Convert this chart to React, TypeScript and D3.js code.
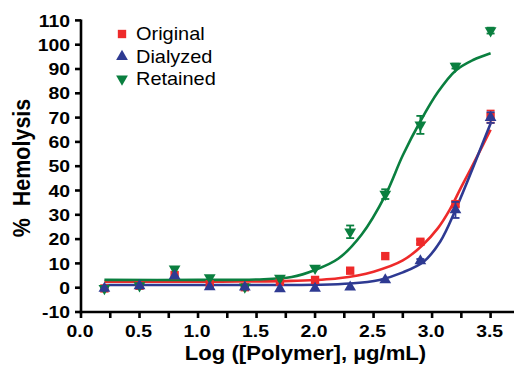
import * as d3 from 'd3';
import React from 'react';

// log concentration of each sample
const logConc = [0.2, 0.5, 0.8, 1.1, 1.4, 1.7, 2.0, 2.3, 2.6, 2.9, 3.2, 3.5];

// % hemolysis, mean values
const original = [-0.3, 0.8, 5.2, 1.4, 0.2, 2.5, 3.2, 7, 13, 18.9, 34.4, 70.4];
const dialyzed = [-0.3, 0.8, 4.9, 0.3, 0.2, -0.5, -0.3, 0.2, 3.2, 11, 32, 70];
const retained = [-0.3, 0.8, 7.7, 4.1, 0.3, 3.9, 8, 23, 38.5, 67, 91.2, 105.8];

// error bars (+/-)
const originalErr = [0, 0, 0, 0, 0, 0, 0, 0, 0, 0.8, 1, 2.5];
const dialyzedErr = [0, 0, 0, 0, 0, 0, 0, 0, 0, 0.8, 3.3, 2.2];
const retainedErr = [0, 0, 0, 0, 0, 0, 0, 2.6, 2, 3.7, 1, 1.2];

// fitted curves as [log conc, % hemolysis]
const originalFit = [[0.2, 2.5], [1.2, 2.5], [1.8, 2.8], [2.2, 3.9], [2.5, 6.6], [2.75, 11.2], [2.92, 17.6], [3.05, 24.5], [3.15, 32], [3.25, 41.5], [3.38, 53.5], [3.5, 65]];
const dialyzedFit = [[0.2, 1.1], [1.2, 1.1], [2.0, 1.2], [2.3, 1.7], [2.55, 3.2], [2.75, 6.3], [2.93, 10.8], [3.07, 19], [3.2, 32], [3.3, 43.5], [3.4, 55.5], [3.5, 67.6]];
const retainedFit = [[0.2, 3.2], [1.0, 3.2], [1.5, 3.4], [1.8, 4.4], [2.0, 7.3], [2.2, 12], [2.4, 22], [2.6, 38], [2.75, 54.5], [2.9, 68.5], [3.05, 80.5], [3.2, 89.3], [3.35, 93.7], [3.5, 96.5]];

const xTicks = d3.range(0, 3.51, 0.25);
const xLabels = [0, 0.5, 1, 1.5, 2, 2.5, 3, 3.5];
const yTicks = d3.range(-10, 111, 10);

const series = [
  { name: 'Original', color: '#ee2a2a', values: original, err: originalErr, fit: originalFit, shape: 'square' },
  { name: 'Retained', color: '#0a7f3f', values: retained, err: retainedErr, fit: retainedFit, shape: 'down' },
  { name: 'Dialyzed', color: '#2e3a92', values: dialyzed, err: dialyzedErr, fit: dialyzedFit, shape: 'up' },
];
const legendOrder = ['Original', 'Dialyzed', 'Retained'];

const W = 516;
const H = 370;
const font = '"Liberation Sans", Arial, sans-serif';
const SX = 1.14; // text in the figure is a bit wide

const x = d3.scaleLinear().domain([0, 3.7]).range([81, 514]);
const y = d3.scaleLinear().domain([-10, 110]).range([312, 20.4]);

const line = d3.line<number[]>()
  .x((d) => x(d[0]))
  .y((d) => y(d[1]))
  .curve(d3.curveCatmullRom.alpha(0.5));

const symbolPath = (shape: string) => {
  if (shape === 'square') return d3.symbol().type(d3.symbolSquare).size(70)();
  return d3.symbol().type(d3.symbolTriangle).size(60)();
};

const Marker = ({ shape, color, cx, cy }) => (
  <path
    d={symbolPath(shape) || ''}
    fill={color}
    transform={`translate(${cx},${cy})${shape === 'down' ? ' rotate(180)' : ''}`}
  />
);

const at = (px: number, py: number, sx = SX) => `translate(${px},${py}) scale(${sx},1)`;

const App = () => {
  return (
    <svg width={W} height={H} style={{ position: 'absolute', left: 0, top: 0, background: '#fff' }}>
      {/* fitted curves */}
      {series.map((s) => (
        <path key={s.name + '-fit'} d={line(s.fit as number[][]) || ''} fill="none" stroke={s.color} strokeWidth={2.6} />
      ))}

      {/* error bars + markers */}
      {series.map((s) => (
        <g key={s.name}>
          {s.values.map((v, i) => {
            const e = s.err[i];
            const cx = x(logConc[i]);
            if (!e) return null;
            return (
              <g key={i} stroke={s.color} strokeWidth={1.8}>
                <line x1={cx} x2={cx} y1={y(v - e)} y2={y(v + e)} />
                <line x1={cx - 4} x2={cx + 4} y1={y(v - e)} y2={y(v - e)} />
                <line x1={cx - 4} x2={cx + 4} y1={y(v + e)} y2={y(v + e)} />
              </g>
            );
          })}
          {s.values.map((v, i) => (
            <Marker key={i} shape={s.shape} color={s.color} cx={x(logConc[i])} cy={y(v)} />
          ))}
        </g>
      ))}

      {/* axes */}
      <g stroke="#000" strokeWidth={2.6} fill="none">
        <line x1={x(0)} x2={x(0)} y1={y(110) - 1} y2={y(-10) + 1.3} />
        <line x1={x(0) - 1.3} x2={514} y1={y(-10)} y2={y(-10)} />
        {yTicks.map((t) => (
          <line key={'yt' + t} x1={x(0) - 6} x2={x(0)} y1={y(t)} y2={y(t)} />
        ))}
        {xTicks.map((t) => (
          <line key={'xt' + t} x1={x(t)} x2={x(t)} y1={y(-10)} y2={y(-10) + 6} />
        ))}
      </g>
      <g fontFamily={font} fontWeight="bold" fontSize={17} fill="#000">
        {yTicks.map((t) => (
          <text key={'yl' + t} transform={at(70, y(t))} dy="0.36em" textAnchor="end">{t}</text>
        ))}
        {xLabels.map((t) => (
          <text key={'xl' + t} transform={at(x(t) - 1, 337)} textAnchor="middle">{d3.format('.1f')(t)}</text>
        ))}
      </g>
      <text transform={at(305.5, 359.5, 1.08)} textAnchor="middle" fontFamily={font} fontWeight="bold" fontSize={20.5}>
        Log ([Polymer], µg/mL)
      </text>
      <text
        transform="translate(30,168) rotate(-90) scale(1,1.1)"
        textAnchor="middle"
        fontFamily={font}
        fontWeight="bold"
        fontSize={21.5}
        style={{ whiteSpace: 'pre' }}
      >
        {'%  Hemolysis'}
      </text>

      {/* legend */}
      <g fontFamily={font} fontSize={17.5}>
        {legendOrder.map((name, i) => {
          const s = series.find((d) => d.name === name)!;
          const cy = 34 + i * 22.5;
          return (
            <g key={name}>
              <Marker shape={s.shape} color={s.color} cx={122} cy={cy} />
              <text transform={at(136, cy)} dy="0.36em">{name}</text>
            </g>
          );
        })}
      </g>
    </svg>
  );
};

export default App;
